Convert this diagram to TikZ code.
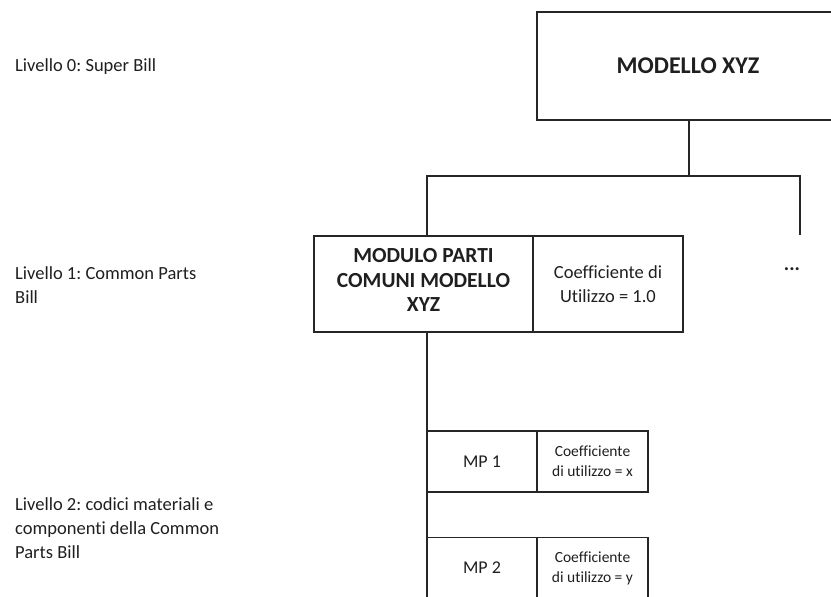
\documentclass[tikz,border=0pt]{standalone}
\usepackage{fontspec}
\setmainfont{Carlito}[Ligatures=NoCommon]
\frenchspacing
\begin{document}
\begin{tikzpicture}[x=1pt,y=-1pt,
  box/.style={draw=black!85, line width=1.1pt, inner sep=0pt, align=center, text=black!88},
  lbl/.style={inner sep=0pt, align=left, anchor=base west, text=black!88,
    font=\fontsize{18.5}{24}\selectfont},
  link/.style={draw=black!85, line width=1.1pt}]
\clip (0,0) rectangle (831,597);

% level labels (base anchor sits on the last line)
\node[lbl] (l0) at (15,71) {Livello 0: Super Bill};
\node[lbl] (l1) at (15,303) {Livello 1: Common Parts\\Bill};
\node[lbl] (l2) at (15,558) {Livello 2: codici materiali e\\componenti della Common\\Parts Bill};

% level 0
\node[box, minimum width=302pt, minimum height=108pt,
  font=\bfseries\fontsize{24}{29}\selectfont] (top) at (688,66) {MODELLO XYZ};

% level 1
\node[box, minimum width=219pt, minimum height=96pt, text depth=8pt,
  font=\bfseries\fontsize{21.5}{24.5}\selectfont] (mod) at (423.5,284)
  {MODULO PARTI\\COMUNI MODELLO\\XYZ};
\node[box, minimum width=150pt, minimum height=96pt,
  font=\fontsize{18.5}{24}\selectfont] (modc) at (608,284)
  {Coefficiente di\\Utilizzo = 1.0};
\node[inner sep=0pt, anchor=base, text=black!88, font=\bfseries\fontsize{20}{24}\selectfont]
  (dots) at (792,270) {...};

% level 2
\node[box, minimum width=110pt, minimum height=61pt,
  font=\fontsize{18}{22}\selectfont] (mp1) at (482,461.5) {MP 1};
\node[box, minimum width=111pt, minimum height=61pt,
  font=\fontsize{15.5}{20}\selectfont] (mp1c) at (592.5,461.5)
  {Coefficiente\\di utilizzo = x};
\node[box, minimum width=110pt, minimum height=61pt,
  font=\fontsize{18}{22}\selectfont] (mp2) at (482,568) {MP 2};
\node[box, minimum width=111pt, minimum height=61pt,
  font=\fontsize{15.5}{20}\selectfont] (mp2c) at (592.5,568)
  {Coefficiente\\di utilizzo = y};

% connectors
\coordinate (bus) at (689,176);
\coordinate (modin) at (427,236);
\coordinate (modout) at (427,332);
\coordinate (more) at (800,235);
\coordinate (trunkend) at (427,600);
\draw[link] (top.south -| bus) -- (bus);
\draw[link] (modin) |- (bus) -| (more);
\draw[link] (modout) -- (trunkend);
\end{tikzpicture}
\end{document}
